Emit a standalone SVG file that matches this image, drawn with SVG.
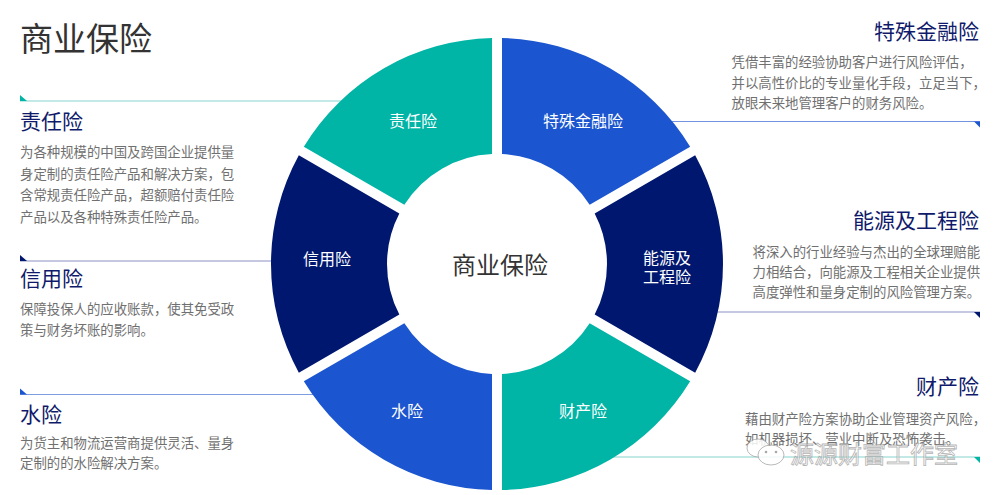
<svg xmlns="http://www.w3.org/2000/svg" width="994" height="495" viewBox="0 0 994 495">
<style>
text{font-family:"Noto Sans CJK SC","Liberation Sans",sans-serif}
.title{font-size:33px;fill:#333}
.head{font-size:21px;fill:#0f1a6b}
.body{font-size:13.4px;fill:#707070}
.seg{font-size:16px;fill:#fff;text-anchor:middle}
.center{font-size:24px;fill:#333;text-anchor:middle}
.teal{fill:#00b4a6}
.blue{fill:#1b55cf}
.navy{fill:#00176f}
.ln{stroke-width:1.2;fill:none}
.wm{font-size:24px;fill:#fff;stroke:#9a9a9a;stroke-width:0.8;opacity:0.85}
</style>
<rect width="994" height="495" fill="#fff"/>
<text class="title" x="20" y="51">商业保险</text>

<g id="connectors">
  <line class="ln" x1="20" y1="101" x2="343" y2="101" stroke="#86d4ce"/>
  <polygon class="teal" points="20,95 20,101 27,101"/>
  <line class="ln" x1="20" y1="261" x2="274" y2="261" stroke="#8a92c4"/>
  <polygon class="navy" points="20,255 20,261 27,261"/>
  <line class="ln" x1="20" y1="394.5" x2="315" y2="394.5" stroke="#7d9de3"/>
  <polygon class="blue" points="20,388.5 20,394.5 27,394.5"/>
  <line class="ln" x1="670" y1="121.5" x2="980" y2="121.5" stroke="#7393e0"/>
  <polygon class="blue" points="974,121.5 980,121.5 980,127.5"/>
  <line class="ln" x1="715" y1="312" x2="980" y2="312" stroke="#8a92c4"/>
  <polygon class="navy" points="974,312 980,312 980,318"/>
  <line class="ln" x1="612" y1="457" x2="980" y2="457" stroke="#86d4ce"/>
  <polygon class="teal" points="974,457 980,457 980,463"/>
</g>

<g id="seg-zeren">
  <path class="teal" d="M492,38.055 A226,226 0 0 0 303.832,146.697 L404.336,204.727 A110,110 0 0 1 492,154.114 Z"/>
  <text class="seg" x="413" y="126.5">责任险</text>
</g>
<g id="seg-teshu">
  <path class="blue" d="M690.168,146.697 A226,226 0 0 0 502,38.055 L502,154.114 A110,110 0 0 1 589.664,204.727 Z"/>
  <text class="seg" x="583" y="126.5">特殊金融险</text>
</g>
<g id="seg-xinyong">
  <path class="navy" d="M298.832,155.357 A226,226 0 0 0 298.832,372.643 L399.336,314.613 A110,110 0 0 1 399.336,213.387 Z"/>
  <text class="seg" x="327" y="265">信用险</text>
</g>
<g id="seg-nengyuan">
  <path class="navy" d="M695.168,372.643 A226,226 0 0 0 695.168,155.357 L594.664,213.387 A110,110 0 0 1 594.664,314.613 Z"/>
  <text class="seg"><tspan x="667" y="264">能源及</tspan><tspan x="667" y="283">工程险</tspan></text>
</g>
<g id="seg-shui">
  <path class="blue" d="M303.832,381.303 A226,226 0 0 0 492,489.945 L492,373.886 A110,110 0 0 1 404.336,323.273 Z"/>
  <text class="seg" x="407" y="416.5">水险</text>
</g>
<g id="seg-caichan">
  <path class="teal" d="M502,489.945 A226,226 0 0 0 690.168,381.303 L589.664,323.273 A110,110 0 0 1 502,373.886 Z"/>
  <text class="seg" x="583" y="416.5">财产险</text>
</g>
<g id="center">
  <text class="center" x="500" y="274">商业保险</text>
</g>

<g id="desc-zeren">
  <text class="head" x="20" y="129">责任险</text>
  <text class="body" x="20" y="157">为各种规模的中国及跨国企业提供量</text>
  <text class="body" x="20" y="178.5">身定制的责任险产品和解决方案，包</text>
  <text class="body" x="20" y="200">含常规责任险产品，超额赔付责任险</text>
  <text class="body" x="20" y="221.5">产品以及各种特殊责任险产品。</text>
</g>
<g id="desc-xinyong">
  <text class="head" x="20" y="286">信用险</text>
  <text class="body" x="20" y="313.5">保障投保人的应收账款，使其免受政</text>
  <text class="body" x="20" y="335">策与财务坏账的影响。</text>
</g>
<g id="desc-shui">
  <text class="head" x="20" y="421.5">水险</text>
  <text class="body" x="20" y="448">为货主和物流运营商提供灵活、量身</text>
  <text class="body" x="20" y="468">定制的的水险解决方案。</text>
</g>
<g id="desc-teshu">
  <text class="head" x="979" y="39" text-anchor="end">特殊金融险</text>
  <text class="body" x="731.5" y="67">凭借丰富的经验协助客户进行风险评估，</text>
  <text class="body" x="731.5" y="88">并以高性价比的专业量化手段，立足当下，</text>
  <text class="body" x="731.5" y="108">放眼未来地管理客户的财务风险。</text>
</g>
<g id="desc-nengyuan">
  <text class="head" x="979" y="227.5" text-anchor="end">能源及工程险</text>
  <text class="body" x="752.5" y="257">将深入的行业经验与杰出的全球理赔能</text>
  <text class="body" x="752.5" y="277">力相结合，向能源及工程相关企业提供</text>
  <text class="body" x="752.5" y="297">高度弹性和量身定制的风险管理方案。</text>
</g>
<g id="desc-caichan">
  <text class="head" x="979" y="394" text-anchor="end">财产险</text>
  <text class="body" x="745" y="423.5">藉由财产险方案协助企业管理资产风险，</text>
  <text class="body" x="745" y="443.5">如机器损坏、营业中断及恐怖袭击。</text>
</g>

<g id="watermark" opacity="0.85">
  <ellipse cx="758" cy="448" rx="11" ry="9" fill="#fff" stroke="#9a9a9a" stroke-width="0.8"/>
  <ellipse cx="771" cy="455" rx="13" ry="10" fill="#fff" stroke="#9a9a9a" stroke-width="0.8"/>
  <circle cx="766" cy="452" r="1.3" fill="#9a9a9a"/>
  <circle cx="776" cy="452" r="1.3" fill="#9a9a9a"/>
  <text class="wm" x="790" y="463">源源财富工作室</text>
</g>
</svg>
